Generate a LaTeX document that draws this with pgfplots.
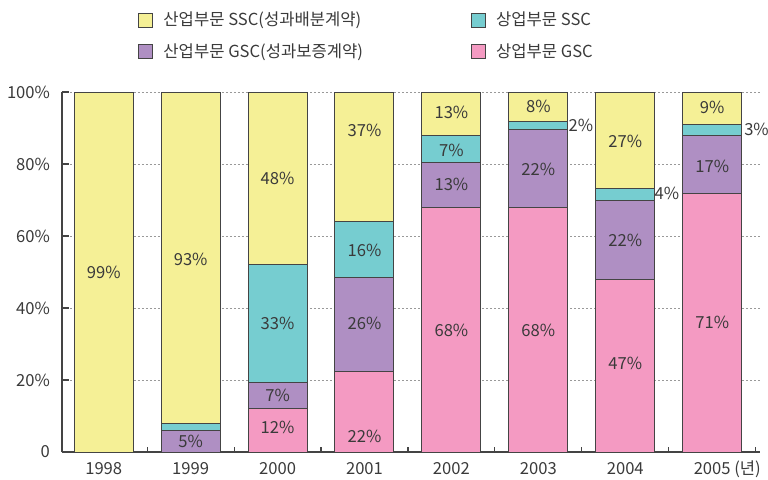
\documentclass[border=0pt]{standalone}
\usepackage{fontspec}
\setmainfont{Noto Sans CJK KR}
\usepackage{pgfplots}
\pgfplotsset{compat=1.18}
\usepackage{pgfplotstable}
\definecolor{cY}{HTML}{F5F096}
\definecolor{cT}{HTML}{76CDD0}
\definecolor{cP}{HTML}{AF8FC3}
\definecolor{cK}{HTML}{F49AC2}
\definecolor{txt}{HTML}{3A3A3A}
\definecolor{edge}{HTML}{444444}

\pgfplotstableread{
x pink purple teal yellow
0 0 0 0 100
1 0 6.1 1.9 92
2 12.2 7.2 32.8 47.8
3 22.5 26.1 15.3 36.1
4 68 12.3 7.5 12.2
5 67.8 21.9 2.0 8.3
6 48 22 3.3 26.7
7 71.7 16.3 3.1 8.9
}\bars

\pgfplotstableread{
x y lab
0 50 99
1 3.0 5
1 53.6 93
2 6.7 12
2 15.6 7
2 35.8 33
2 76 48
3 4.2 22
3 35.8 26
3 56.1 16
3 89.4 37
4 33.9 68
4 74.2 13
4 83.9 7
4 94.2 13
5 33.9 68
5 78.6 22
5.49 90.6 2
5 96.1 8
6 24.7 47
6 58.9 22
6.48 71.7 4
6 86.4 27
7 36.1 71
7 79.4 17
7.51 89.7 3
7 95.8 9
}\labels

\newcommand{\fs}{\fontsize{8.3}{10}\selectfont}

\begin{document}
\begin{tikzpicture}
\path[use as bounding box] (-31pt,-13.5pt) rectangle (353pt,226pt);
\begin{axis}[
  at={(0,0)}, anchor=south west, scale only axis,
  width=349pt, height=180pt,
  xmin=-0.48, xmax=7.55, ymin=0, ymax=100,
  ybar stacked, bar width=29.5pt,
  axis x line=bottom, axis y line=left,
  axis line style={edge, line width=0.6pt, -},
  xtick={0,...,7},
  xticklabels={1998,1999,2000,2001,2002,2003,2004,2005\rlap{\smash{ (년)}}},
  xticklabel style={yshift=-1.5pt},
  yticklabel style={xshift=-2.5pt},
  major x tick style={draw=none},
  minor xtick={0.5,1.5,...,7.5},
  minor x tick style={edge, line width=0.6pt},
  minor tick length=2.5pt,
  ytick={0,20,...,100},
  yticklabels={0,20\%,40\%,60\%,80\%,100\%},
  major y tick style={edge, line width=0.6pt},
  major tick length=3.5pt,
  tick align=inside,
  ymajorgrids,
  major grid style={gray!80, line width=0.5pt, dash pattern=on 1pt off 1pt},
  tick label style={font=\fs, text=txt},
  legend columns=2,
  legend cell align=left,
  legend style={at={(0.109,1.235)}, anchor=north west, draw=none, fill=none,
    font=\fs, text=txt, row sep=3.5pt, inner sep=0pt,
    /tikz/every odd column/.append style={column sep=3pt},
    /tikz/every even column/.append style={column sep=52pt}},
  legend image code/.code={\draw[#1, draw=edge, line width=0.5pt] (0pt,-3.5pt) rectangle (7pt,3.5pt);},
]
\addlegendimage{fill=cY}
\addlegendentry{산업부문 SSC(성과배분계약)}
\addlegendimage{fill=cT}
\addlegendentry{상업부문 SSC}
\addlegendimage{fill=cP}
\addlegendentry{산업부문 GSC(성과보증계약)}
\addlegendimage{fill=cK}
\addlegendentry{상업부문 GSC}
\addplot[fill=cK, draw=edge, line width=0.5pt, forget plot] table[x=x, y=pink]{\bars};
\addplot[fill=cP, draw=edge, line width=0.5pt, forget plot] table[x=x, y=purple]{\bars};
\addplot[fill=cT, draw=edge, line width=0.5pt, forget plot] table[x=x, y=teal]{\bars};
\addplot[fill=cY, draw=edge, line width=0.5pt, forget plot] table[x=x, y=yellow]{\bars};
\end{axis}
\begin{axis}[
  at={(0,0)}, anchor=south west, scale only axis,
  width=349pt, height=180pt,
  xmin=-0.48, xmax=7.55, ymin=0, ymax=100,
  hide axis, clip=false,
]
\addplot[draw=none, mark=none, point meta=explicit symbolic,
  nodes near coords={\pgfplotspointmeta\%},
  nodes near coords align=center,
  every node near coord/.append style={font=\fs, text=txt, anchor=center, inner sep=0pt}]
  table[x=x, y=y, meta=lab]{\labels};
\end{axis}
\end{tikzpicture}
\end{document}
